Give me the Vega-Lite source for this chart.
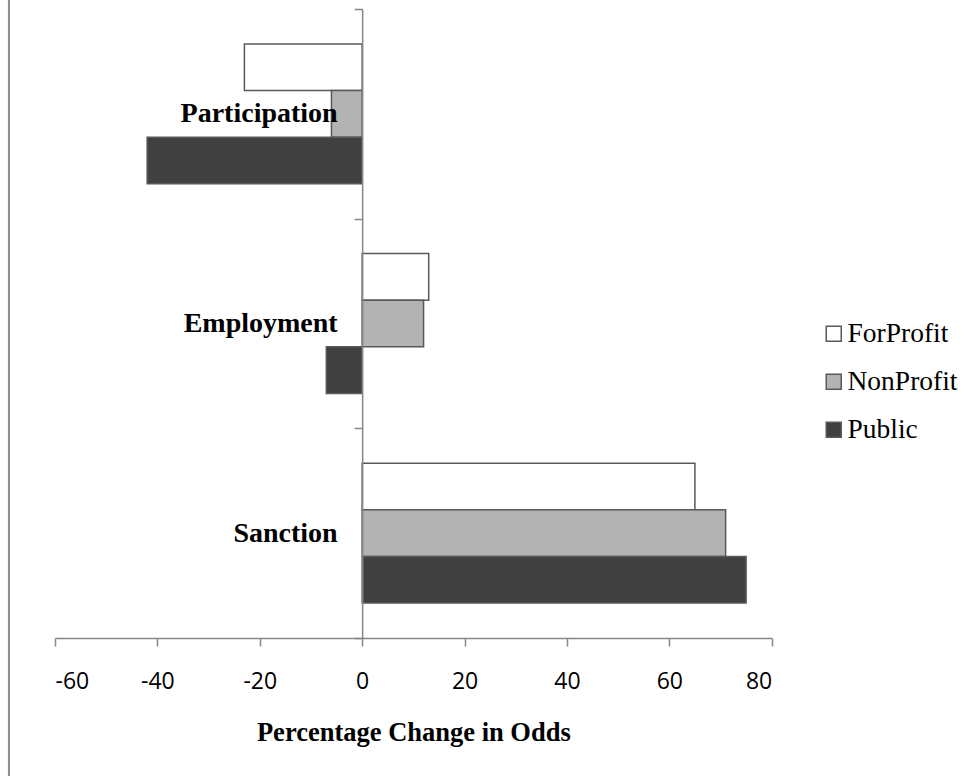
{
  "$schema": "https://vega.github.io/schema/vega-lite/v6.json",
  "width": 716.7,
  "height": 629,
  "autosize": {"type": "none"},
  "padding": {"left": 55, "top": 9, "right": 208.3, "bottom": 138},
  "background": "white",
  "config": {
    "view": {"stroke": null},
    "axis": {"grid": false, "domainColor": "#868686", "tickColor": "#868686", "domainWidth": 1.5, "tickWidth": 1.5, "tickSize": 8}
  },
  "datasets": {
    "odds": [
      {"outcome": "Participation", "sector": "ForProfit", "pct": -23},
      {"outcome": "Participation", "sector": "NonProfit", "pct": -6},
      {"outcome": "Participation", "sector": "Public", "pct": -42},
      {"outcome": "Employment", "sector": "ForProfit", "pct": 13},
      {"outcome": "Employment", "sector": "NonProfit", "pct": 12},
      {"outcome": "Employment", "sector": "Public", "pct": -7},
      {"outcome": "Sanction", "sector": "ForProfit", "pct": 65},
      {"outcome": "Sanction", "sector": "NonProfit", "pct": 71},
      {"outcome": "Sanction", "sector": "Public", "pct": 75}
    ],
    "frame": [{"edge": "left"}]
  },
  "layer": [
    {
      "data": {"name": "odds"},
      "mark": {"type": "bar", "stroke": "#595959", "strokeWidth": 1.5},
      "encoding": {
        "y": {
          "field": "outcome",
          "type": "nominal",
          "sort": ["Participation", "Employment", "Sanction"],
          "scale": {"paddingInner": 0, "paddingOuter": 0},
          "axis": {
            "title": null,
            "offset": -307.16,
            "zindex": 1,
            "tickBand": "extent",
            "labelFont": "Liberation Serif",
            "labelFontSize": 28,
            "labelFontWeight": "bold",
            "labelColor": "black",
            "labelPadding": 17
          }
        },
        "yOffset": {
          "field": "sector",
          "type": "nominal",
          "sort": ["ForProfit", "NonProfit", "Public"],
          "scale": {"paddingInner": 0, "paddingOuter": 0.75}
        },
        "x": {
          "field": "pct",
          "type": "quantitative",
          "scale": {"domain": [-60, 80], "nice": false},
          "axis": {
            "title": "Percentage Change in Odds",
            "values": [-60, -40, -20, 0, 20, 40, 60, 80],
            "labelExpr": "'' + datum.value",
            "labelFont": "Open Sans",
            "labelFontSize": 23,
            "labelColor": "black",
            "labelPadding": 24,
            "titleFont": "Liberation Serif",
            "titleFontSize": 26.5,
            "titleFontWeight": "bold",
            "titleColor": "black",
            "titleBaseline": "alphabetic",
            "titleY": 102
          }
        },
        "fill": {
          "field": "sector",
          "type": "nominal",
          "scale": {"domain": ["ForProfit", "NonProfit", "Public"], "range": ["#ffffff", "#b3b3b3", "#404040"]},
          "legend": {
            "title": null,
            "orient": "none",
            "legendX": 765,
            "legendY": 311,
            "padding": 0,
            "symbolType": "square",
            "symbolSize": 225,
            "symbolStrokeColor": "#595959",
            "symbolStrokeWidth": 1.5,
            "labelFont": "Liberation Serif",
            "labelFontSize": 27.5,
            "labelColor": "black",
            "labelOffset": 0,
            "rowPadding": 19
          }
        }
      }
    },
    {
      "data": {"name": "frame"},
      "mark": {"type": "rule", "color": "#8c8c8c", "strokeWidth": 2},
      "encoding": {
        "x": {"datum": -69, "type": "quantitative"},
        "y": {"datum": 1.0143, "type": "quantitative", "scale": {"domain": [0, 1]}, "axis": null},
        "y2": {"datum": -0.2194}
      }
    }
  ],
  "resolve": {"scale": {"y": "independent"}, "axis": {"y": "independent"}}
}
